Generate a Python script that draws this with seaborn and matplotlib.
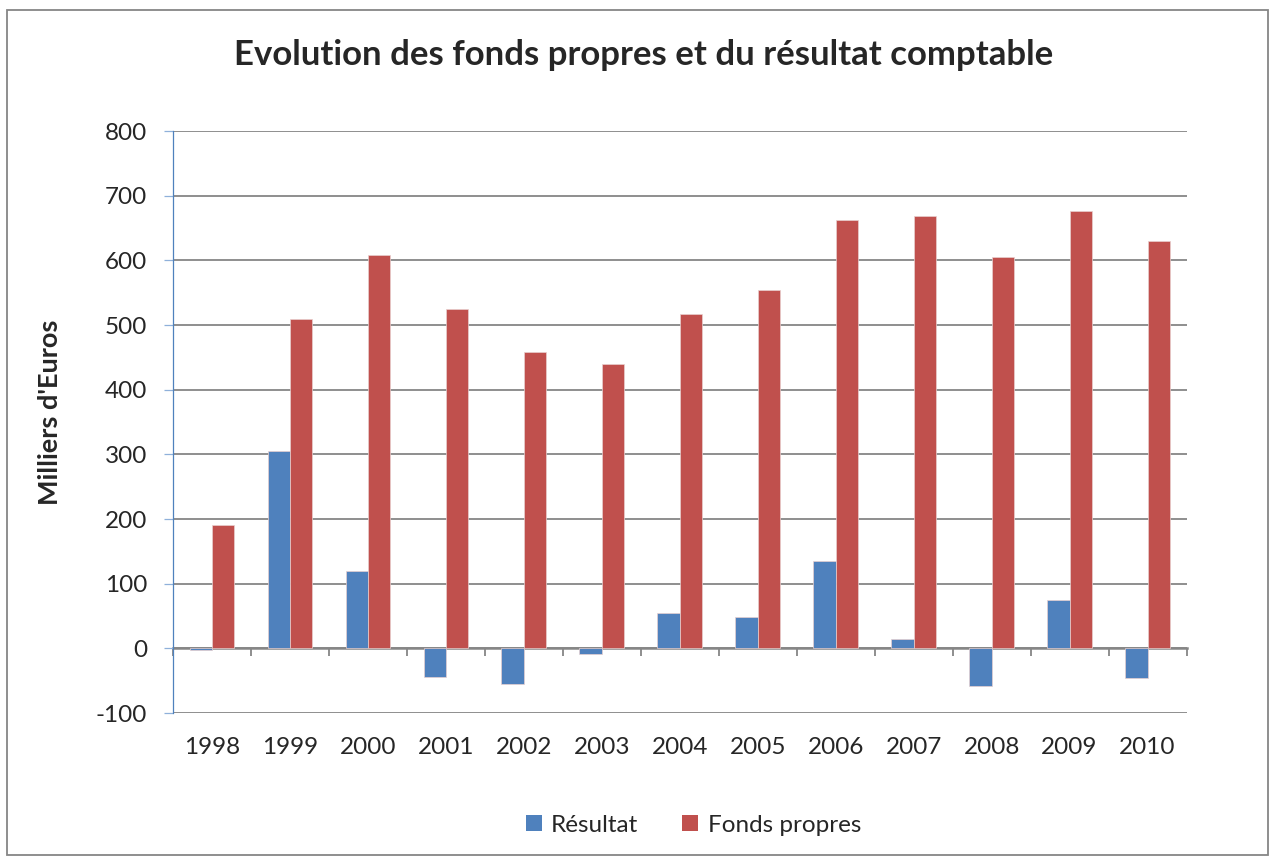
import matplotlib

matplotlib.use("Agg")
import matplotlib.pyplot as plt
import numpy as np
import pandas as pd
import seaborn as sns
from matplotlib.patches import Patch, Rectangle

# values (milliers d'euros)
years = ["1998", "1999", "2000", "2001", "2002", "2003", "2004",
         "2005", "2006", "2007", "2008", "2009", "2010"]
resultat = [-2, 305, 119, -45, -55, -9, 55, 48, 135, 15, -58, 75, -46]
fonds_propres = [191, 509, 609, 525, 459, 439, 517, 554, 662, 668, 605, 676, 630]
series_names = ["Résultat", "Fonds propres"]
colors = ["#4F81BD", "#C0504D"]
y_ticks = [-100, 0, 100, 200, 300, 400, 500, 600, 700, 800]

df = pd.DataFrame({
    "year": years * 2,
    "value": resultat + fonds_propres,
    "serie": [series_names[0]] * len(years) + [series_names[1]] * len(years),
})

sns.set_style("white")
plt.rcParams["font.family"] = ["Lato", "DejaVu Sans"]
plt.rcParams["axes.unicode_minus"] = False

fig = plt.figure(figsize=(12.7, 8.56), dpi=100)
ax = fig.add_axes([173 / 1270, 1 - 713 / 856, (1186.5 - 173) / 1270, (713 - 131) / 856])

sns.barplot(data=df, x="year", y="value", hue="serie", hue_order=series_names,
            palette=colors, width=0.573, saturation=1, ax=ax, legend=False,
            edgecolor="#e8d0d0", linewidth=0.5)

ax.set_xlim(-0.5, len(years) - 0.5)
ax.set_ylim(y_ticks[0], y_ticks[-1])
ax.set_yticks(y_ticks)
ax.set_xlabel("")
ax.set_ylabel("")
ax.set_axisbelow(True)
ax.yaxis.grid(True, color="#868686", linewidth=1.3)
ax.xaxis.grid(False)
for side in ["top", "right", "bottom"]:
    ax.spines[side].set_visible(False)
ax.spines["left"].set_color("#4F81BD")
ax.spines["left"].set_linewidth(0.9)
ax.tick_params(axis="y", direction="out", length=6.5, width=0.9, color="#8FB0DA",
               pad=12, labelsize=17.5, left=True)
ax.tick_params(axis="x", length=0, pad=17, labelsize=17.5)

# category axis drawn at zero with boundary tick marks
y0, y1 = ax.get_ylim()
sec = ax.secondary_xaxis((0 - y0) / (y1 - y0))
sec.set_xticks(np.arange(-0.5, len(years), 1))
sec.set_xticklabels([])
sec.tick_params(direction="out", length=6, width=1.3, color="#868686")
sec.spines["bottom"].set_color("#868686")
sec.spines["bottom"].set_linewidth(1.8)

fig.text(0.507, 1 - 55 / 856, "Evolution des fonds propres et du résultat comptable",
         ha="center", va="center", fontsize=25, fontweight="bold")
fig.text(50 / 1270, 1 - 412 / 856, "Milliers d'Euros", rotation=90,
         ha="center", va="center", fontsize=19.5, fontweight="bold")

handles = [Patch(facecolor=c, edgecolor="none") for c in colors]
fig.legend(handles, series_names, loc="center", bbox_to_anchor=(0.546, 1 - 825 / 856),
           ncol=2, frameon=False, fontsize=17.5, handlelength=0.65, handleheight=0.65,
           handletextpad=0.4, columnspacing=1.8)

fig.patches.append(Rectangle((7 / 1270, 1 - 855 / 856), 1261 / 1270, 845 / 856,
                             transform=fig.transFigure, fill=False,
                             edgecolor="#868686", linewidth=1.3))

fig.savefig("out.png", dpi=100)
